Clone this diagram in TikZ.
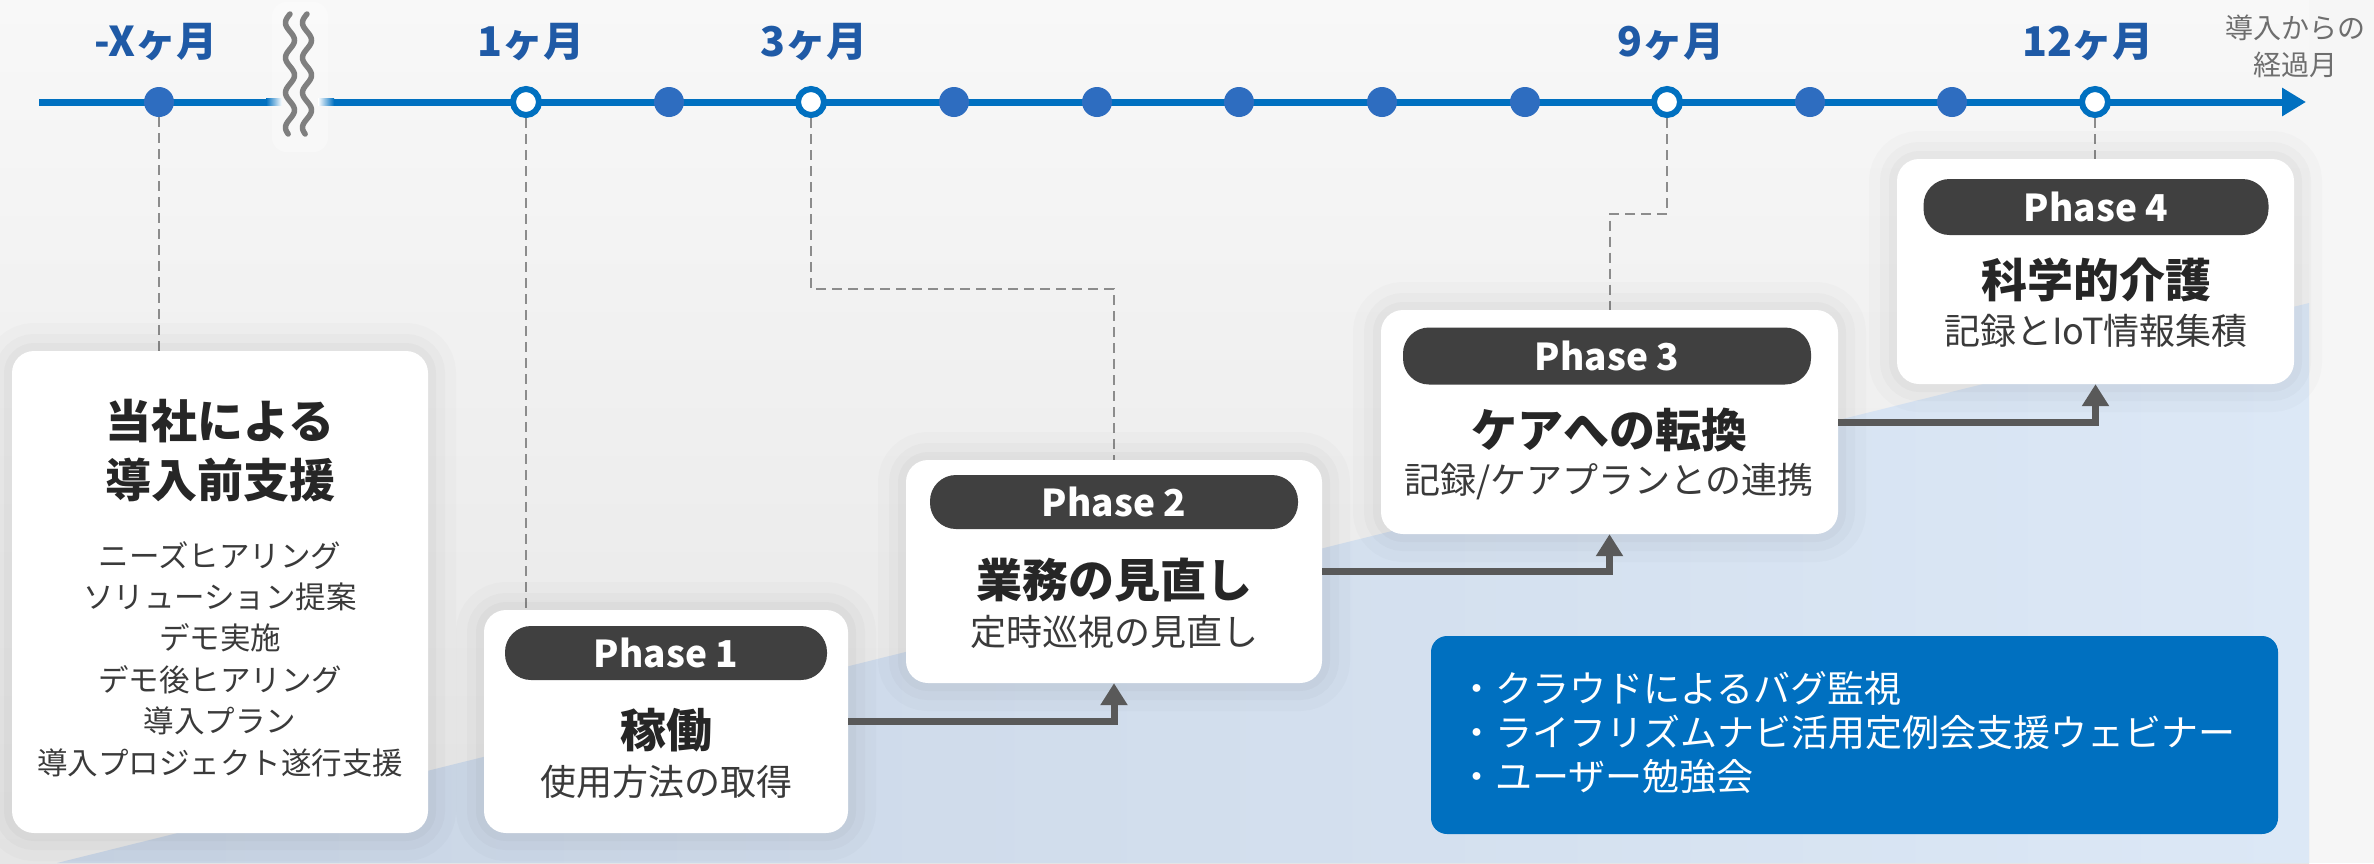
\documentclass[tikz,border=0pt]{standalone}
\usepackage{fontspec}
\setmainfont{Noto Sans CJK JP}
\usetikzlibrary{arrows.meta,calc}
\definecolor{tlblue}{HTML}{0070C0}
\definecolor{dotblue}{HTML}{2E6DC0}
\definecolor{lblblue}{HTML}{1F5AA6}
\definecolor{pillgray}{HTML}{404040}
\definecolor{txtdark}{HTML}{262626}
\definecolor{txtmid}{HTML}{3A3A3A}
\definecolor{arrgray}{HTML}{595959}
\definecolor{dashgray}{HTML}{8C8C8C}
\definecolor{bgtop}{HTML}{F8F8F8}
\definecolor{bgbot}{HTML}{E6E6E6}
\definecolor{bgside}{HTML}{F6F6F6}
\definecolor{bandL}{HTML}{C8D4E4}
\definecolor{bandR}{HTML}{DCE8F6}
\definecolor{infoblue}{HTML}{0070C0}
\definecolor{wavegray}{HTML}{7F7F7F}
\definecolor{axisgray}{HTML}{6E6E6E}
\tikzset{
  card/.style={fill=white, rounded corners=22pt, inner sep=0pt,
    preaction={draw=black, opacity=0.015, line width=56pt},
    preaction={draw=black, opacity=0.02, line width=34pt},
    preaction={draw=black, opacity=0.025, line width=16pt}},
  pill/.style={fill=pillgray, rounded corners=26pt, inner sep=0pt, minimum height=54pt,
    text=white, font=\fontsize{37}{37}\selectfont\bfseries},
  ttl/.style={inner sep=0pt, text=txtdark, font=\fontsize{46}{46}\selectfont\bfseries},
  subttl/.style={inner sep=0pt, text=txtmid, font=\fontsize{36}{36}\selectfont},
  lst/.style={inner sep=0pt, text=txtmid, align=center, font=\fontsize{30.5}{41.4}\selectfont},
  infobox/.style={fill=infoblue, rounded corners=16pt, inner sep=0pt},
  infotxt/.style={inner sep=0pt, text=white, align=left, font=\fontsize{37}{44}\selectfont},
  monthlbl/.style={inner sep=0pt, text=lblblue, font=\fontsize{41}{41}\selectfont\bfseries},
  axislbl/.style={inner sep=0pt, text=axisgray, align=center, font=\fontsize{28}{37}\selectfont},
  tlline/.style={draw=tlblue, line width=7pt},
  fdot/.style={circle, fill=dotblue, minimum size=30pt, inner sep=0pt},
  hdot/.style={circle, fill=white, draw=tlblue, line width=6pt, minimum size=26pt, inner sep=0pt},
  waveline/.style={draw=wavegray, line width=5.5pt, line cap=round},
  dashline/.style={draw=dashgray, line width=2pt, dash pattern=on 10pt off 6pt},
  flowarrow/.style={draw=arrgray, line width=7pt, -{Triangle[length=22pt,width=26pt]}}
}
\begin{document}
\begin{tikzpicture}[x=1pt,y=-1pt]
\useasboundingbox (0,0) rectangle (2374,863);
% background
\fill[bgside] (0,0) rectangle (2374,863);
\shade[top color=bgtop, bottom color=bgbot] (0,0) rectangle (2309,863);
\shade[left color=bandL, right color=bandR] (57,863) -- (2309,303) -- (2309,863) -- cycle;

% timeline
\coordinate (tlA) at (39,102);
\coordinate (tlB) at (266,102);
\coordinate (tlC) at (334,102);
\coordinate (tlD) at (2306,102);
\fill[white, opacity=0.3, rounded corners=14pt] (272,2) rectangle (328,152);
\draw[tlline] (tlA) -- (tlB);
\shade[left color=tlblue, right color=white] (266,98.5) rectangle (282,105.5);
\shade[left color=white, right color=tlblue] (318,98.5) rectangle (334,105.5);
\draw[tlline, -{Triangle[length=24pt,width=27pt]}] (tlC) -- (tlD);
\draw[waveline] plot[domain=14:134, samples=120, smooth] ({290-4.5*sin(10.3*(\x-14))},\x);
\draw[waveline] plot[domain=14:134, samples=120, smooth] ({307-4.5*sin(10.3*(\x-14))},\x);

\node[fdot] (dX) at (159,102) {};
\node[hdot] (d1) at (526,102) {};
\node[fdot] (d2) at (669,102) {};
\node[hdot] (d3) at (811,102) {};
\node[fdot] (d4) at (954,102) {};
\node[fdot] (d5) at (1097,102) {};
\node[fdot] (d6) at (1239,102) {};
\node[fdot] (d7) at (1382,102) {};
\node[fdot] (d8) at (1525,102) {};
\node[hdot] (d9) at (1667,102) {};
\node[fdot] (d10) at (1810,102) {};
\node[fdot] (d11) at (1952,102) {};
\node[hdot] (d12) at (2095,102) {};

\node[monthlbl] (lX) at (156,42) {-Xヶ月};
\node[monthlbl] (l1) at (531,42) {1ヶ月};
\node[monthlbl] (l3) at (814,42) {3ヶ月};
\node[monthlbl] (l9) at (1671,42) {9ヶ月};
\node[monthlbl] (l12) at (2088,42) {12ヶ月};
\node[axislbl] (ax) at (2295,46) {導入からの\\経過月};

% dashed guides
\coordinate (k3) at (811,289);
\coordinate (k9) at (1667,214);
\draw[dashline] (dX.south) -- (dX.south |- 0,351);
\draw[dashline] (d1.south) -- (d1.south |- 0,610);
\draw[dashline] (d3.south) -- (k3) -| (1114,460);
\draw[dashline] (d9.south) -- (k9) -| (1609.5,310);
\draw[dashline] (d12.south) -- (d12.south |- 0,159);

% cards
\node[card, minimum width=416pt, minimum height=482pt] (b0) at (220,592) {};
\node[card, minimum width=364pt, minimum height=223pt] (b1) at (666,721.5) {};
\node[card, minimum width=416pt, minimum height=223pt] (b2) at (1114,571.5) {};
\node[card, minimum width=457pt, minimum height=224pt] (b3) at (1609.5,422) {};
\node[card, minimum width=397pt, minimum height=225pt] (b4) at (2095.5,271.5) {};

% card 0
\node[ttl, align=center, font=\fontsize{46}{59}\selectfont\bfseries] (t0) at (220,451) {当社による\\導入前支援};
\node[lst] (s0) at (220,659) {ニーズヒアリング\\ソリューション提案\\デモ実施\\デモ後ヒアリング\\導入プラン\\導入プロジェクト遂行支援};

% phases
\node[pill, minimum width=322pt] (p1) at (666,653) {Phase 1};
\node[pill, minimum width=368pt] (p2) at (1114,502) {Phase 2};
\node[pill, minimum width=408pt, minimum height=57pt] (p3) at (1607,356) {Phase 3};
\node[pill, minimum width=345pt, minimum height=56pt] (p4) at (2096,207) {Phase 4};

\node[ttl] (t1) at (666,730) {稼働};
\node[subttl] (s1) at (666,782) {使用方法の取得};
\node[ttl] (t2) at (1114,580) {業務の見直し};
\node[subttl] (s2) at (1114,632) {定時巡視の見直し};
\node[ttl] (t3) at (1609,430) {ケアへの転換};
\node[subttl] (s3) at (1609,482) {記録/ケアプランとの連携};
\node[ttl] (t4) at (2096,280) {科学的介護};
\node[subttl] (s4) at (2096,331) {記録とIoT情報集積};

% connectors
\draw[flowarrow] (b1.east) -| (b2.south);
\draw[flowarrow] (b2.east) -| (b3.south);
\draw[flowarrow] (b3.east) -| (b4.south);

% info box
\node[infobox, minimum width=847pt, minimum height=198pt] (ib) at (1854.5,735) {};
\node[infotxt, anchor=west] (it) at (1458,733) {・クラウドによるバグ監視\\・ライフリズムナビ活用定例会支援ウェビナー\\・ユーザー勉強会};
\end{tikzpicture}
\end{document}
